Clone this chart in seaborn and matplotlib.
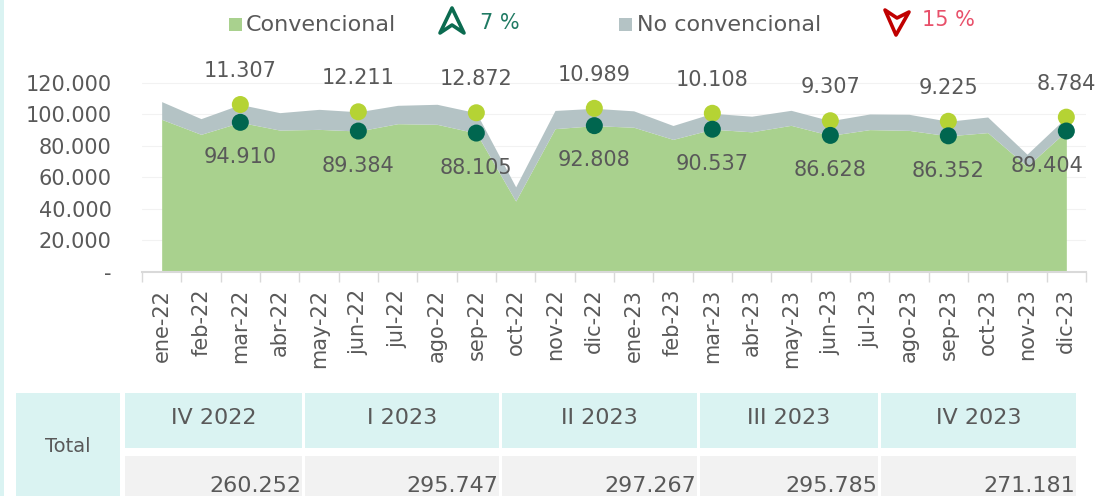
"""
Convencional vs No convencional - monthly stacked area with quarterly totals table
"""
import matplotlib
matplotlib.use('Agg')
import matplotlib.pyplot as plt
from matplotlib.patches import Rectangle, Polygon
import numpy as np
import seaborn as sns

# ----------------------------------------------------------------------------
# Data
# ----------------------------------------------------------------------------
months = ['ene-22', 'feb-22', 'mar-22', 'abr-22', 'may-22', 'jun-22',
          'jul-22', 'ago-22', 'sep-22', 'oct-22', 'nov-22', 'dic-22',
          'ene-23', 'feb-23', 'mar-23', 'abr-23', 'may-23', 'jun-23',
          'jul-23', 'ago-23', 'sep-23', 'oct-23', 'nov-23', 'dic-23']

convencional = [96800, 87300, 94910, 90000, 90450, 89384,
                94050, 93650, 88105, 45000, 90900, 92808,
                91800, 84100, 90537, 88900, 93000, 86628,
                90300, 89800, 86352, 88400, 67000, 89404]

no_convencional = [11250, 9950, 11307, 11050, 12700, 12211,
                   11650, 12700, 12872, 9000, 11555, 10989,
                   10400, 8802, 10108, 9900, 9532, 9307,
                   9900, 10208, 9225, 9900, 7693, 8784]

# months that carry a marker + data label (quarter ends)
labelled_months = ['mar-22', 'jun-22', 'sep-22', 'dic-22', 'mar-23',
                   'jun-23', 'sep-23', 'dic-23']

legend_change_conv = '7 %'
legend_change_noconv = '15 %'

quarters = ['IV 2022', 'I 2023', 'II 2023', 'III 2023', 'IV 2023']
quarter_totals = [260252, 295747, 297267, 295785, 271181]

# ----------------------------------------------------------------------------
# Style
# ----------------------------------------------------------------------------
sns.set_theme(style='white')
plt.rcParams['font.family'] = ['DejaVu Sans']

GREEN = '#A9D18E'
GREY = '#B4C3C5'
DOT_LIGHT = '#B5D334'
DOT_DARK = '#00664F'
TEXT = '#595959'
CYAN = '#DAF3F2'
CELL = '#F2F2F2'

W, H = 1116, 496
fig = plt.figure(figsize=(W / 100, H / 100), dpi=100)


def fx(px):
    return px / W


def fy(py):
    return 1 - py / H


def fmt(v):
    return f'{v:,.0f}'.replace(',', '.')


# ----------------------------------------------------------------------------
# Main area chart
# ----------------------------------------------------------------------------
ax = fig.add_axes([fx(142), fy(272), fx(1086) - fx(142), fy(67) - fy(272)])
x = np.arange(len(months))
conv = np.array(convencional)
total = conv + np.array(no_convencional)

ax.stackplot(x, conv, no_convencional, colors=[GREEN, GREY], linewidth=0)

idx = [months.index(m) for m in labelled_months]
sns.scatterplot(x=x[idx], y=total[idx], color=DOT_LIGHT, s=150,
                edgecolor='none', ax=ax, zorder=5)
sns.scatterplot(x=x[idx], y=conv[idx], color=DOT_DARK, s=150,
                edgecolor='none', ax=ax, zorder=6)

for i in idx:
    dx = -14 if i == len(months) - 1 else 0
    ax.annotate(fmt(no_convencional[i]), (x[i], total[i]), xytext=(0, 24),
                textcoords='offset points', ha='center', va='center',
                fontsize=15, color=TEXT, zorder=7)
    ax.annotate(fmt(convencional[i]), (x[i], conv[i]), xytext=(dx, -25),
                textcoords='offset points', ha='center', va='center',
                fontsize=15, color=TEXT, zorder=7)

ax.set_xlim(-0.5, len(months) - 0.5)
ax.set_ylim(0, 130000)
yt = np.arange(0, 120001, 20000)
ax.set_yticks(yt)
ax.set_yticklabels(['-' if v == 0 else fmt(v) for v in yt])
ax.set_xticks(x)
ax.set_xticklabels(months, rotation=90)
ax.set_xticks(np.arange(-0.5, len(months)), minor=True)
ax.tick_params(axis='x', which='major', length=0, pad=12, labelsize=15,
               labelcolor=TEXT)
ax.tick_params(axis='x', which='minor', length=7, width=1, color='#D9D9D9',
               direction='out', bottom=True)
ax.tick_params(axis='y', length=0, pad=22, labelsize=15, labelcolor=TEXT)
ax.grid(axis='y', color='#F2F2F2', linewidth=0.8)
ax.set_axisbelow(True)
for s in ['top', 'right', 'left']:
    ax.spines[s].set_visible(False)
ax.spines['bottom'].set_color('#D9D9D9')
ax.spines['bottom'].set_linewidth(1.5)
ax.set_facecolor('none')

# ----------------------------------------------------------------------------
# Overlay: legend, arrows, table, border
# ----------------------------------------------------------------------------
ov = fig.add_axes([0, 0, 1, 1], zorder=-1)
ov.set_xlim(0, W)
ov.set_ylim(H, 0)
ov.axis('off')

ov.add_patch(Rectangle((0, 0), 4, H, color=CYAN, lw=0))

# legend
ov.add_patch(Rectangle((229, 18), 13, 13, color=GREEN, lw=0))
fig.text(fx(246), fy(25), 'Convencional', fontsize=16, color=TEXT, va='center')
fig.add_artist(Polygon([(fx(452), fy(8)), (fx(464), fy(33)),
                        (fx(452), fy(25)), (fx(440), fy(33))],
                       closed=True, fill=False, edgecolor='#0B6B50', lw=2.6,
                       joinstyle='round', transform=fig.transFigure))
fig.text(fx(480), fy(23), legend_change_conv, fontsize=15, color='#1F7A63',
         va='center')

ov.add_patch(Rectangle((619, 18), 13, 13, color=GREY, lw=0))
fig.text(fx(637), fy(25), 'No convencional', fontsize=16, color=TEXT,
         va='center')
fig.add_artist(Polygon([(fx(885), fy(10)), (fx(897), fy(18)),
                        (fx(909), fy(12)), (fx(896), fy(35))],
                       closed=True, fill=False, edgecolor='#C00000', lw=2.6,
                       joinstyle='round', transform=fig.transFigure))
fig.text(fx(922), fy(20), legend_change_noconv, fontsize=15, color='#E8506A',
         va='center')

# table
col_edges = [(125, 302), (305, 499), (502, 697), (700, 878), (881, 1076)]
ov.add_patch(Rectangle((16, 393), 104, H - 393, color=CYAN, lw=0))
fig.text(fx(68), fy(447), 'Total', fontsize=14, color=TEXT,
         ha='center', va='center')
for (x0, x1), q, v in zip(col_edges, quarters, quarter_totals):
    ov.add_patch(Rectangle((x0, 393), x1 - x0, 55, color=CYAN, lw=0))
    ov.add_patch(Rectangle((x0, 456), x1 - x0, H - 456, color=CELL, lw=0))
    fig.text(fx((x0 + x1) / 2), fy(418), q, fontsize=16, color=TEXT,
             ha='center', va='center')
    fig.text(fx(x1 - 1), fy(486), fmt(v), fontsize=16, color=TEXT,
             ha='right', va='center')

fig.savefig('out.png', dpi=100)
